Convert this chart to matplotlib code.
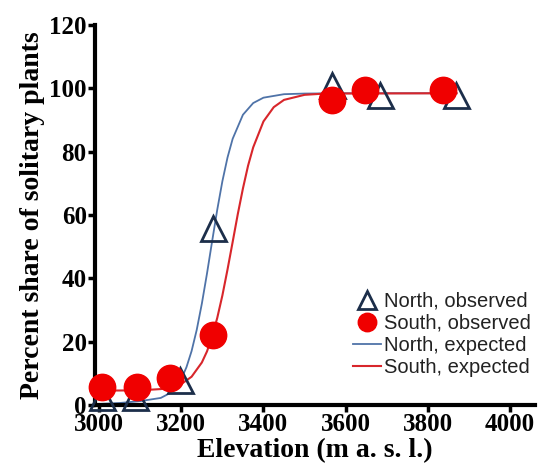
import matplotlib
matplotlib.use("Agg")
import matplotlib.pyplot as plt

# observed points
north_x = [3008, 3088, 3197, 3278, 3568, 3683, 3868]
north_y = [2.5, 2.5, 8, 56, 101, 98, 98]
south_x = [3008, 3093, 3173, 3276, 3566, 3646, 3836]
south_y = [5.7, 5.7, 8.6, 22, 96.5, 99.5, 99.5]

# expected curves
north_exp_x = [3000, 3050, 3100, 3150, 3175, 3200, 3212.5, 3225, 3237.5, 3250,
               3262.5, 3275, 3287.5, 3300, 3312.5, 3325, 3350, 3375, 3400,
               3450, 3500, 3600, 3870]
north_exp_y = [0.3, 0.6, 1.2, 2.2, 3.9, 8.2, 11.9, 17.0, 23.7, 32.0,
               41.5, 51.7, 61.7, 70.7, 78.2, 84.1, 91.7, 95.4, 97.1,
               98.2, 98.4, 98.5, 98.5]
south_exp_x = [3000, 3100, 3150, 3175, 3200, 3225, 3250, 3262.5, 3275, 3287.5,
               3300, 3312.5, 3325, 3337.5, 3350, 3362.5, 3375, 3400, 3425,
               3450, 3500, 3550, 3870]
south_exp_y = [4.5, 4.6, 5.0, 5.5, 6.6, 8.9, 13.4, 16.9, 21.6, 27.5,
               34.6, 42.8, 51.5, 60.3, 68.4, 75.6, 81.4, 89.6, 94.1,
               96.4, 98.0, 98.4, 98.5]

x_ticks = [3000, 3200, 3400, 3600, 3800, 4000]
y_ticks = [0, 20, 40, 60, 80, 100, 120]

fig = plt.figure(figsize=(5.4, 4.67), dpi=100)
ax = fig.add_axes([0.176, 0.133, 0.814, 0.813])

ax.plot(north_exp_x, north_exp_y, color="#4f73a8", lw=1.3, label="North, expected", zorder=2)
ax.plot(south_exp_x, south_exp_y, color="#d8262b", lw=1.5, label="South, expected", zorder=3)
ax.plot(north_x, north_y, linestyle="none", marker="^", markersize=18, fillstyle="none",
        markeredgecolor="#1c2e4a", markeredgewidth=2, label="North, observed", zorder=4, clip_on=False)
ax.plot(south_x, south_y, linestyle="none", marker="o", markersize=19,
        markerfacecolor="#f00000", markeredgecolor="#f00000", label="South, observed", zorder=5, clip_on=False)

ax.set_xlim(2990, 4060)
ax.set_ylim(0, 120)
ax.set_xticks(x_ticks)
ax.set_yticks(y_ticks)

for s in ["top", "right"]:
    ax.spines[s].set_visible(False)
for s in ["left", "bottom"]:
    ax.spines[s].set_linewidth(3)
ax.spines["left"].set_bounds(0, 120)
ax.tick_params(width=2.5, length=5, direction="out", pad=1)
for lab in ax.get_xticklabels() + ax.get_yticklabels():
    lab.set_fontfamily("Liberation Serif")
    lab.set_fontweight("bold")
    lab.set_fontsize(18)

ax.set_xlabel("Elevation (m a. s. l.)", fontfamily="Liberation Serif", fontweight="bold",
              fontsize=20, labelpad=1)
ax.set_ylabel("Percent share of solitary plants", fontfamily="Liberation Serif", fontweight="bold",
              fontsize=20, labelpad=3)

handles, labels = ax.get_legend_handles_labels()
order = [2, 3, 0, 1]
leg = ax.legend([handles[i] for i in order], [labels[i] for i in order],
                loc="upper right", bbox_to_anchor=(1.015, 0.325), frameon=False,
                prop={"family": "Liberation Sans", "size": 14.5}, handlelength=1.4,
                handletextpad=0.15, labelspacing=0.15, markerscale=0.7, borderpad=0)
for t in leg.get_texts():
    t.set_color("#222222")

fig.savefig("out.png", dpi=100)
